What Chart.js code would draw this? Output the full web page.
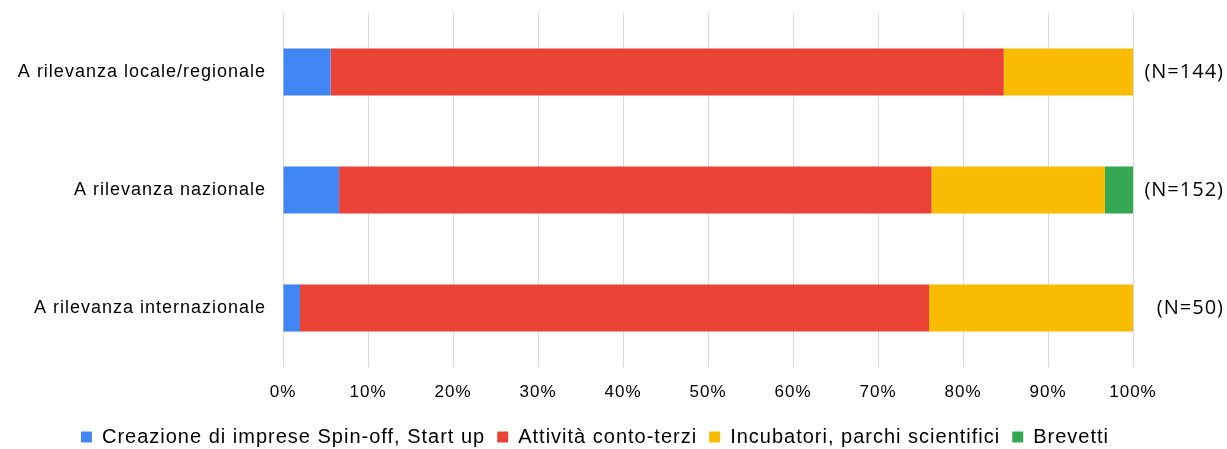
<!DOCTYPE html>
<html>
<head>
<meta charset="utf-8">
<script src="https://cdn.jsdelivr.net/npm/chart.js@4"></script>
<style>
html,body{margin:0;padding:0;background:#fff;}
#wrap{width:1227px;height:449px;position:relative;}
</style>
</head>
<body>
<div id="wrap"><canvas id="c"></canvas></div>
<script>
const categories = ["A rilevanza locale/regionale", "A rilevanza nazionale", "A rilevanza internazionale"];
const sampleLabels = ["(N=144)", "(N=152)", "(N=50)"];
const spinOff = [5.6, 6.6, 2.0];
const contoTerzi = [79.2, 69.7, 74.0];
const incubatori = [15.3, 20.4, 24.0];
const brevetti = [0, 3.3, 0];
const xTicks = [0, 10, 20, 30, 40, 50, 60, 70, 80, 90, 100];
const seriesNames = ["Creazione di imprese Spin-off, Start up", "Attività conto-terzi", "Incubatori, parchi scientifici", "Brevetti"];

const colors = ["#4285F4", "#EA4335", "#FBBC04", "#34A853"];
const font = "'Liberation Sans', Arial, sans-serif";

const spacingPlugin = {
  id: 'spacing',
  beforeUpdate(chart) { chart.ctx.letterSpacing = '1px'; },
  beforeLayout(chart) { chart.ctx.letterSpacing = '1px'; },
  beforeDraw(chart) { chart.ctx.letterSpacing = '1px'; },
  afterDraw(chart) {
    const ctx = chart.ctx;
    const y = chart.scales.y;
    ctx.save();
    ctx.letterSpacing = '1px';
    ctx.font = "20px 'Open Sans', sans-serif";
    ctx.fillStyle = '#000';
    ctx.textAlign = 'right';
    ctx.textBaseline = 'middle';
    sampleLabels.forEach((t, i) => ctx.fillText(t, chart.width - 3, y.getPixelForValue(i)));
    ctx.restore();
  }
};

new Chart(document.getElementById('c'), {
  type: 'bar',
  plugins: [spacingPlugin],
  data: {
    labels: categories,
    datasets: [spinOff, contoTerzi, incubatori, brevetti].map((d, i) => ({
      label: seriesNames[i],
      data: d,
      backgroundColor: colors[i],
      borderWidth: 0,
      categoryPercentage: 1,
      barPercentage: 0.4,
      yAxisID: 'y'
    }))
  },
  options: {
    indexAxis: 'y',
    responsive: true,
    maintainAspectRatio: false,
    animation: false,
    layout: { padding: { left: 0, right: 37, top: 13, bottom: -8 } },
    scales: {
      x: {
        stacked: true,
        min: 0, max: 100,
        afterBuildTicks: (s) => { s.ticks = xTicks.map(v => ({ value: v })); },
        afterFit: (s) => { s.height = 48; },
        grid: { color: '#d9d9d9', lineWidth: 1, drawTicks: false },
        border: { display: false },
        ticks: {
          padding: 15,
          color: '#000',
          font: { family: font, size: 17 },
          callback: (v) => v + '%'
        }
      },
      y: {
        stacked: true,
        afterFit: (s) => { s.width = 283; s.paddingTop = 0; s.paddingBottom = 0; },
        grid: { display: false, drawTicks: false },
        border: { display: false },
        ticks: { color: '#000', padding: 17, font: { family: font, size: 18 } }
      },
      yR: {
        type: 'category',
        labels: sampleLabels,
        position: 'right',
        offset: true,
        afterFit: (s) => { s.width = 57; s.paddingTop = 0; s.paddingBottom = 0; },
        grid: { display: false, drawTicks: false },
        border: { display: false },
        ticks: { display: false }
      }
    },
    plugins: {
      legend: {
        position: 'bottom',
        labels: {
          boxWidth: 11, boxHeight: 11, padding: 12,
          color: '#000',
          font: { family: font, size: 20 }
        }
      },
      tooltip: { enabled: false }
    }
  }
});
</script>
</body>
</html>
